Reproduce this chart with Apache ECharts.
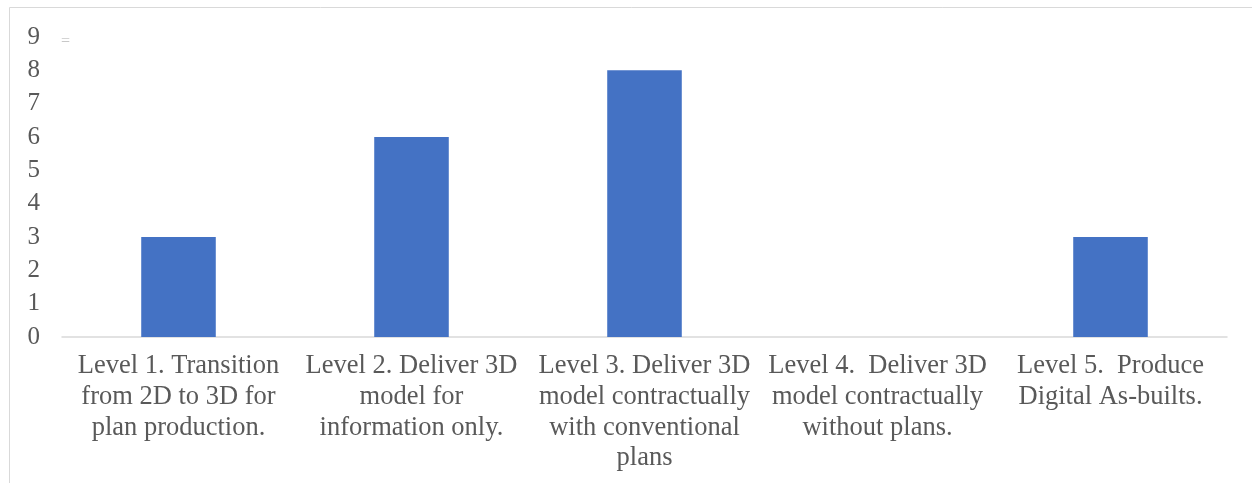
<!DOCTYPE html>
<html><head><meta charset="utf-8">
<script src="https://cdn.jsdelivr.net/npm/echarts@6/dist/echarts.min.js"></script>
<style>html,body{margin:0;padding:0;background:#fff}#c{width:1252px;height:483px}</style>
</head><body><div id="c"></div>
<script>
const categories = [
  "Level 1. Transition\nfrom 2D to 3D for\nplan production.",
  "Level 2. Deliver 3D\nmodel for\ninformation only.",
  "Level 3. Deliver 3D\nmodel contractually\nwith conventional\nplans",
  "Level 4.  Deliver 3D\nmodel contractually\nwithout plans.",
  "Level 5.  Produce\nDigital As-builts."
];
const values = [3, 6, 8, 0, 3];
const yMin = 0, yMax = 9, yStep = 1;

const chart = echarts.init(document.getElementById('c'), null, {renderer:'canvas'});
chart.setOption({
  animation:false,
  backgroundColor:'#fff',
  graphic:[
    {type:'rect', shape:{x:9.5,y:7.5,width:1400,height:700}, style:{fill:'none',stroke:'#d9d9d9',lineWidth:1}, silent:true},
    {type:'text', left:61, top:34, style:{text:'=', fill:'#c8c8c8', font:'16px "Liberation Serif"'}, silent:true}
  ],
  grid:{left:62, right:25, top:37, bottom:146, containLabel:false},
  xAxis:{
    type:'category', data:categories,
    axisLine:{lineStyle:{color:'#d9d9d9', width:1.5}},
    axisTick:{show:false},
    axisLabel:{interval:0, margin:14, color:'#595959', fontFamily:'Liberation Serif', fontSize:26.5, lineHeight:30.7}
  },
  yAxis:{
    type:'value', min:yMin, max:yMax, interval:yStep,
    axisLine:{show:false}, axisTick:{show:false},
    splitLine:{show:false},
    axisLabel:{margin:22, color:'#595959', fontFamily:'Liberation Serif', fontSize:25}
  },
  series:[{
    type:'bar', data:values, barWidth:'32%',
    itemStyle:{color:'#4472c4'}
  }]
});
</script></body></html>
